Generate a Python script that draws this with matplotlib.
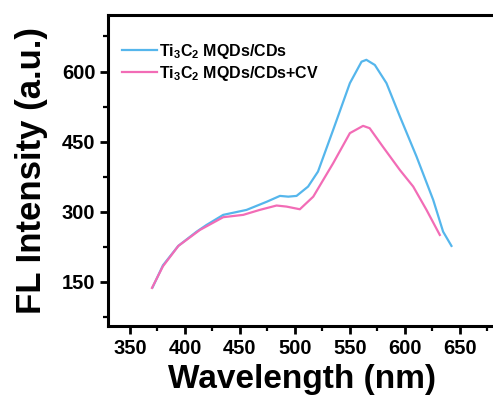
import matplotlib

matplotlib.use("Agg")

import matplotlib.pyplot as plt
from matplotlib.ticker import MultipleLocator

plt.rcParams["font.family"] = ["Liberation Sans", "DejaVu Sans"]
plt.rcParams["font.weight"] = "bold"
plt.rcParams["mathtext.fontset"] = "custom"
plt.rcParams["mathtext.rm"] = "Liberation Sans:bold"
plt.rcParams["mathtext.bf"] = "Liberation Sans:bold"

# values
wl_cds = [370.6, 380, 393.9, 410.6, 419.7, 434.8, 456, 474.3, 486.4, 494, 501.5, 512,
          521, 534.8, 550, 560.6, 565, 572.7, 583.3, 595.5, 610.6, 625.8, 634.8, 642.4]
fl_cds = [138, 185, 226.5, 257, 271.5, 293, 303.6, 321, 333.6, 332, 333.6, 353.6,
          385.7, 475, 575, 621, 625, 614, 575, 503.6, 418, 325, 257, 226.5]

wl_cv = [370, 380, 394, 413.6, 434.8, 453, 468, 483.3, 492.4, 504.5, 516.7, 534.8,
         550, 562, 568, 580, 595.5, 607.6, 619.7, 631.8]
fl_cv = [136.5, 183, 226.5, 260.7, 288, 293, 303.6, 313, 310.7, 305, 332, 403.6,
         468, 483.6, 478.6, 439, 389, 353.6, 303.6, 250]

labels = [r"Ti$_\mathbf{3}$C$_\mathbf{2}$ MQDs/CDs", r"Ti$_\mathbf{3}$C$_\mathbf{2}$ MQDs/CDs+CV"]
colors = ["#55B6EC", "#F26CB6"]

fig = plt.figure(figsize=(4.93, 3.99), dpi=100)
ax = fig.add_axes([108 / 493, 73 / 399, 387 / 493, 311 / 399])

ax.plot(wl_cds, fl_cds, color=colors[0], linewidth=1.6, label=labels[0])
ax.plot(wl_cv, fl_cv, color=colors[1], linewidth=1.6, label=labels[1])

ax.set_xlim(330, 682)
ax.set_ylim(55, 721)
ax.xaxis.set_major_locator(MultipleLocator(50))
ax.xaxis.set_minor_locator(MultipleLocator(25))
ax.yaxis.set_major_locator(MultipleLocator(150))
ax.yaxis.set_minor_locator(MultipleLocator(75))

for spine in ax.spines.values():
    spine.set_linewidth(2.2)
ax.tick_params(which="major", direction="out", length=6, width=2, labelsize=14.5, pad=3)
ax.tick_params(which="minor", direction="out", length=3.5, width=1.6)
for lbl in ax.get_xticklabels() + ax.get_yticklabels():
    lbl.set_fontweight("bold")

ax.set_xlabel("Wavelength (nm)", fontsize=24, fontweight="bold", labelpad=5)
ax.set_ylabel("FL Intensity (a.u.)", fontsize=25, fontweight="bold", labelpad=10)

leg = ax.legend(loc="upper left", bbox_to_anchor=(0.02, 0.935), frameon=False,
                handlelength=2.2, handletextpad=0.1, labelspacing=0.2,
                borderaxespad=0, prop={"size": 11.5, "weight": "bold"})

fig.savefig("out.png", dpi=100)
plt.close(fig)
